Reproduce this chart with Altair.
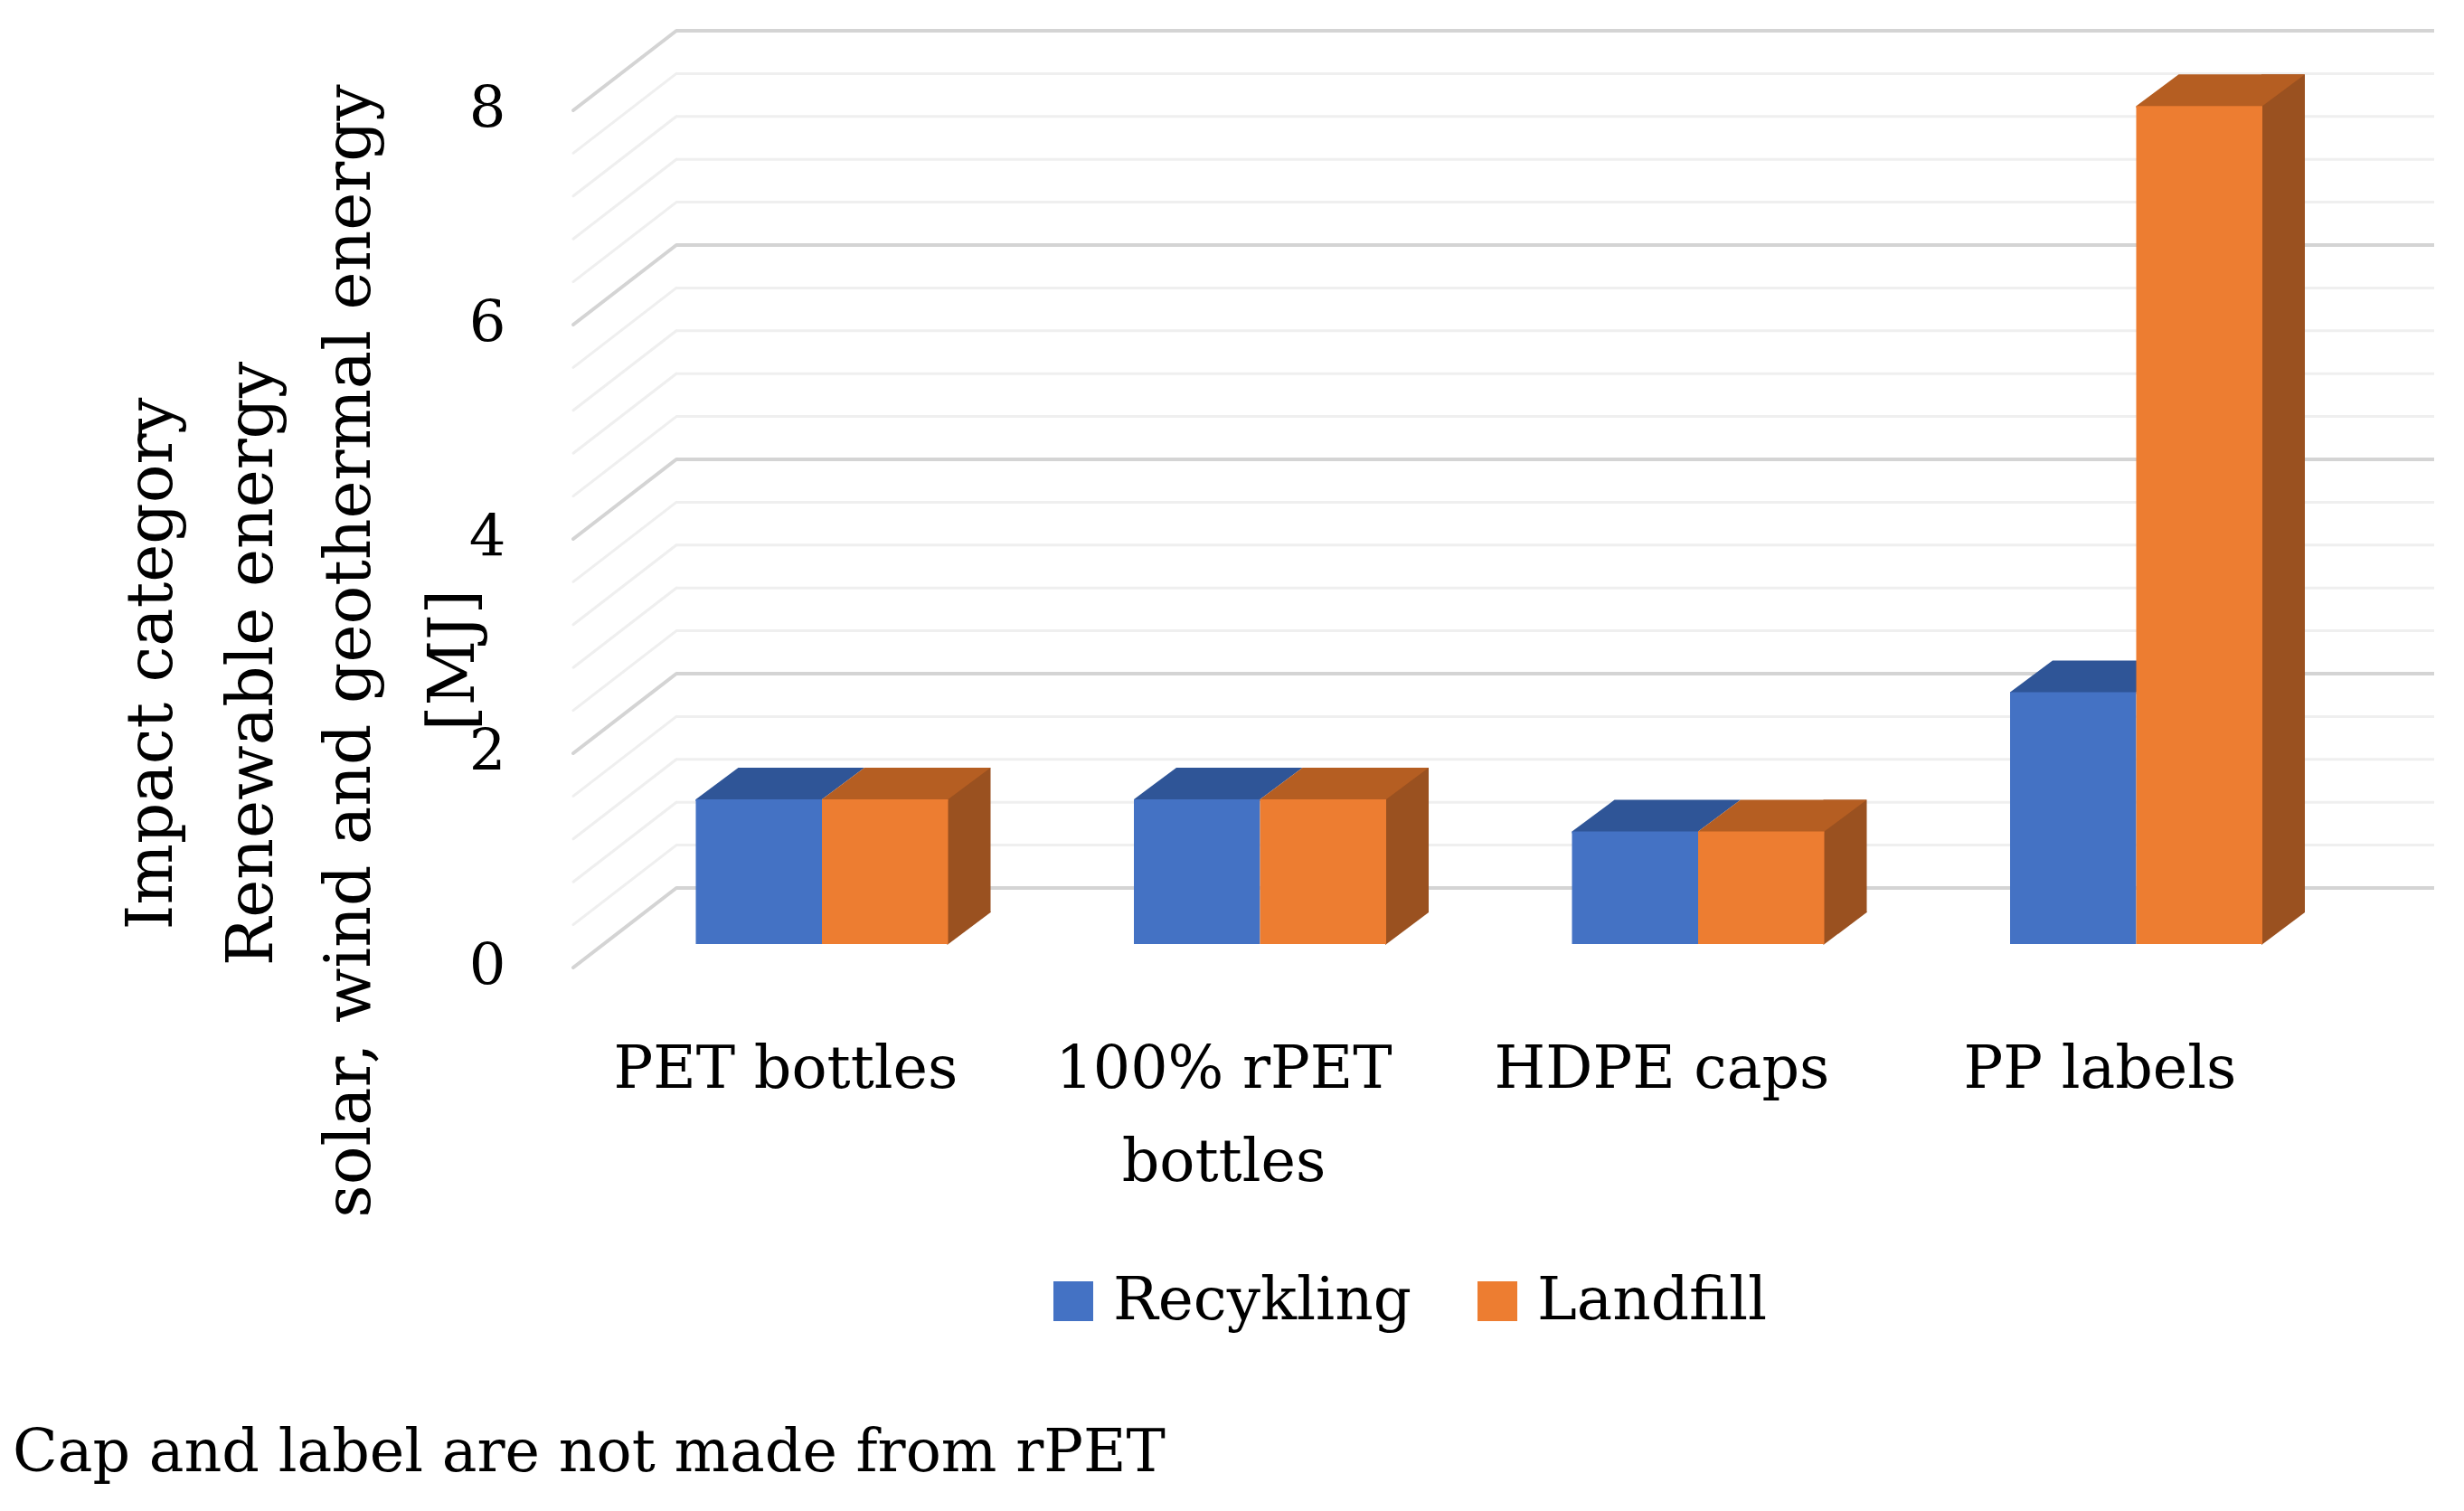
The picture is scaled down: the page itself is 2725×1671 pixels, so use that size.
import altair as alt
import pandas as pd

# ---------------- data ----------------
categories = ["PET bottles", "100% rPET bottles", "HDPE caps", "PP labels"]
series = ["Recykling", "Landfill"]
recykling = [1.35, 1.35, 1.05, 2.35]
landfill = [1.35, 1.35, 1.05, 7.82]
y_ticks = [0, 2, 4, 6, 8]
grid_values = [0.0, 0.4, 0.8, 1.2, 1.6, 2.0, 2.4, 2.8, 3.2, 3.6, 4.0,
               4.4, 4.8, 5.2, 5.6, 6.0, 6.4, 6.8, 7.2, 7.6, 8.0]
title_lines = ["Impact category", "Renewable energy",
               "solar, wind and geothermal energy", "[MJ]"]
caption = "Cap and label are not made from rPET"

# ---------------- style / layout ----------------
FONT = "DejaVu Serif"
FRONT = ["#4472C4", "#ED7D31"]
TOP = ["#2F5597", "#B55E22"]
SIDE = "#9A5120"
W, H = 2709, 1655
Y0, PPU = 1062.0, 118.5          # front-plane zero (px) and px per unit
CX0, PX = 901.0, 484.5           # first group centre (px) and group step
BAR_PX = 139.5                   # width of one bar
HW = BAR_PX / PX
BAR_SHIFT = -26                  # bars stand a bit behind the front plane
BDX, BDY = 47, 35                # bar depth
WALL_FRONT_X, WALL_BACK_X, WALL_DY = 626, 740, 88
WALL_RIGHT_X = 2684

yscale = alt.Scale(domain=[(Y0 - H) / PPU, Y0 / PPU], range=[H, 0], nice=False, zero=False)
xscale = alt.Scale(domain=[-CX0 / PX, (W - CX0) / PX], range=[0, W], nice=False, zero=False)

rows = []
for i, c in enumerate(categories):
    for s, vals in zip(series, [recykling, landfill]):
        left = i - HW if s == "Recykling" else i
        rows.append({"category": c, "series": s, "value": vals[i], "zero": 0.0,
                     "x0": left, "x1": left + HW, "xc": left + HW / 2})
bars = pd.DataFrame(rows)

grid = pd.DataFrame({"v": grid_values,
                     "major": [abs(v / 2 - round(v / 2)) < 1e-9 for v in grid_values]})
ticks = pd.DataFrame({"t": y_ticks, "label": [str(t) for t in y_ticks]})
labels = pd.DataFrame({
    "idx": list(range(len(categories))),
    "line1": [c.replace(" bottles", "") if c.startswith("100%") else c for c in categories],
    "line2": ["bottles" if c.startswith("100%") else "" for c in categories],
})

Y = lambda f: alt.Y(f, scale=yscale, axis=None)
X = lambda f: alt.X(f, scale=xscale, axis=None)

# ---------------- layers ----------------
def grid_layers(flag, color, sw):
    g = alt.Chart(grid).transform_filter(flag)
    h_ = g.mark_rule(color=color, strokeWidth=sw, yOffset=-WALL_DY).encode(
        x=alt.value(WALL_BACK_X), x2=alt.value(WALL_RIGHT_X), y=Y("v:Q"))
    d_ = g.mark_rule(color=color, strokeWidth=sw, y2Offset=-WALL_DY, strokeCap="round").encode(
        x=alt.value(WALL_FRONT_X), x2=alt.value(WALL_BACK_X), y=Y("v:Q"), y2="v:Q")
    return [h_, d_]

base = alt.Chart(bars)

side_rect = base.transform_filter(alt.datum.series == "Landfill").mark_rect(
    color=SIDE, xOffset=-1, x2Offset=BDX, yOffset=BAR_SHIFT - BDY, y2Offset=BAR_SHIFT - BDY).encode(
    x=X("x1:Q"), x2="x1:Q", y=Y("value:Q"), y2="zero:Q")

tri_path = f"M-1,1 L-1,-{BDY + 1} L{BDX},-{BDY + 1} L{BDX},-{BDY} Z"
side_tri = base.transform_filter(alt.datum.series == "Landfill").mark_point(
    shape=tri_path, size=4, filled=True, opacity=1, strokeWidth=0, color=SIDE,
    yOffset=BAR_SHIFT).encode(x=X("x1:Q"), y=Y("zero:Q"))

h = BAR_PX / 2
top_path = f"M{-h},2 L{h},2 L{h},0 L{h + BDX},-{BDY} L{-h + BDX},-{BDY} L{-h},0 Z"
tops_r = base.transform_filter(alt.datum.series == "Recykling").mark_point(
    shape=top_path, size=4, filled=True, opacity=1, strokeWidth=0, color=TOP[0],
    yOffset=BAR_SHIFT).encode(x=X("xc:Q"), y=Y("value:Q"))
tops_l = base.transform_filter(alt.datum.series == "Landfill").mark_point(
    shape=top_path, size=4, filled=True, opacity=1, strokeWidth=0, color=TOP[1],
    yOffset=BAR_SHIFT).encode(x=X("xc:Q"), y=Y("value:Q"))

fronts = base.mark_rect(yOffset=BAR_SHIFT, y2Offset=BAR_SHIFT).encode(
    x=X("x0:Q"), x2="x1:Q", y=Y("value:Q"), y2="zero:Q",
    color=alt.Color("series:N", sort=series,
                    scale=alt.Scale(domain=series, range=FRONT),
                    legend=alt.Legend(orient="none", legendX=1146, legendY=1398,
                                      direction="horizontal", title=None,
                                      symbolType="square", symbolSize=1936,
                                      symbolStrokeWidth=0, symbolOpacity=1,
                                      labelFont=FONT, labelFontSize=66,
                                      labelColor="black", labelOffset=11,
                                      labelLimit=2000, columnPadding=62, padding=0)))

ytext = alt.Chart(ticks).mark_text(font=FONT, fontSize=64, color="black",
                                   align="center", baseline="middle").encode(
    x=alt.value(531), y=Y("t:Q"), text="label:N")

xl1 = alt.Chart(labels).mark_text(font=FONT, fontSize=65, color="black",
                                  align="center", baseline="middle", dx=-40).encode(
    x=X("idx:Q"), y=alt.value(1175), text="line1:N")
xl2 = alt.Chart(labels).mark_text(font=FONT, fontSize=65, color="black",
                                  align="center", baseline="middle", dx=-40).encode(
    x=X("idx:Q"), y=alt.value(1278), text="line2:N")

title_pos = [(161, 726), (272, 726), (380, 712), (495, 722)]
title_layers = [
    alt.Chart(pd.DataFrame({"line": title_lines})).transform_filter(alt.datum.line == ln).mark_text(
        font=FONT, fontSize=71, color="black", angle=270,
        align="center", baseline="middle").encode(
        x=alt.value(px), y=alt.value(py), text="line:N")
    for ln, (px, py) in zip(title_lines, title_pos)
]

cap = alt.Chart(pd.DataFrame({"t": [caption]})).mark_text(
    font=FONT, fontSize=65, color="black", align="left", baseline="middle").encode(
    x=alt.value(6), y=alt.value(1599), text="t:N")

chart = alt.layer(
    *grid_layers("!datum.major", "#EFEFEF", 3),
    *grid_layers("datum.major", "#D4D4D4", 4),
    side_rect, side_tri, tops_r, tops_l, fronts,
    ytext, xl1, xl2, *title_layers, cap
).properties(
    width=W, height=H, padding=0,
    autosize=alt.AutoSizeParams(type="none"),
    background="white",
).configure_view(stroke=None)

chart.save("out.html", embed_options={"renderer": "svg", "actions": False})
